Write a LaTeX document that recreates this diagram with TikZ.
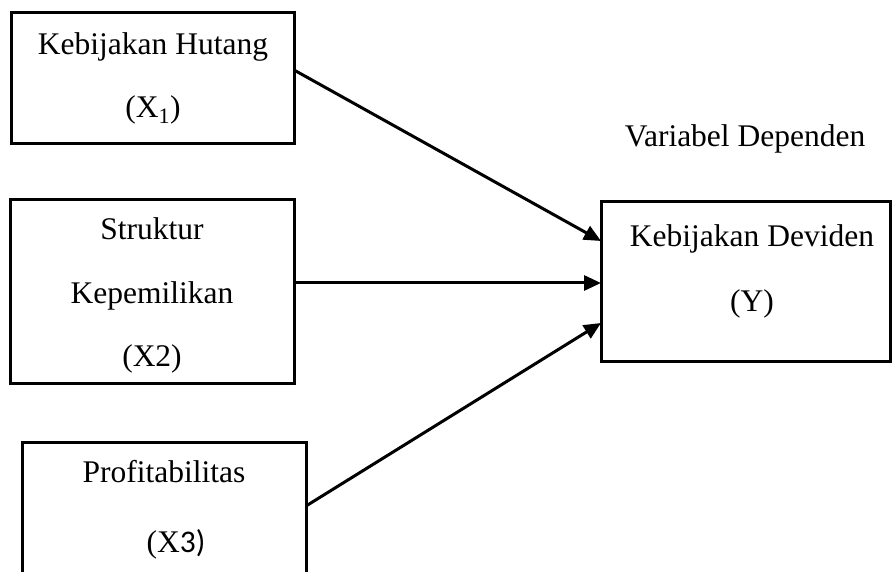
\documentclass[tikz,border=0pt]{standalone}
\usepackage{fontspec}
\setmainfont{Liberation Serif}
\newfontfamily\calib{Carlito}
\usetikzlibrary{arrows.meta}
\begin{document}
\begin{tikzpicture}[x=1pt,y=-1pt,
  box/.style={draw,line width=3pt,inner sep=0pt,outer sep=0pt},
  lbl/.style={anchor=base,inner sep=0pt,font=\fontsize{31.5}{38}\selectfont},
  conn/.style={line width=3pt,-{Triangle[length=17pt,width=15pt]}}]
\useasboundingbox (0,0) rectangle (892,572);
\clip (0,0) rectangle (892,572);
% boxes
\node[box,minimum width=283pt,minimum height=131pt] (b1) at (152.5,78.5) {};
\node[box,minimum width=284pt,minimum height=183pt] (b2) at (152,291.5) {};
\node[box,minimum width=284pt,minimum height=178pt] (b3) at (164,531) {};
\node[box,minimum width=289pt,minimum height=159pt] (by) at (745.5,281.5) {};
% labels
\node[lbl] (t1a) at (153,55) {Kebijakan Hutang};
\node[lbl] (t1b) at (153,118) {(X\textsubscript{1})};
\node[lbl] (t2a) at (152,240) {Struktur};
\node[lbl] (t2b) at (152,303) {Kepemilikan};
\node[lbl] (t2c) at (152,366) {(X2)};
\node[lbl] (t3a) at (164,482) {Profitabilitas};
\node[lbl] (t3b) at (176,552) {(X{\calib 3)}};
\node[lbl] (tya) at (752,247) {Kebijakan Deviden};
\node[lbl] (tyb) at (752,312) {(Y)};
\node[lbl] (tv) at (745,147) {Variabel Dependen};
% connectors
\draw[conn] (b1.east |- 0,70) -- (by.west |- 0,241);
\draw[conn] (b2.east |- 0,283) -- (by.west |- 0,283);
\draw[conn] (b3.east |- 0,506) -- (by.west |- 0,323);
\end{tikzpicture}
\end{document}
